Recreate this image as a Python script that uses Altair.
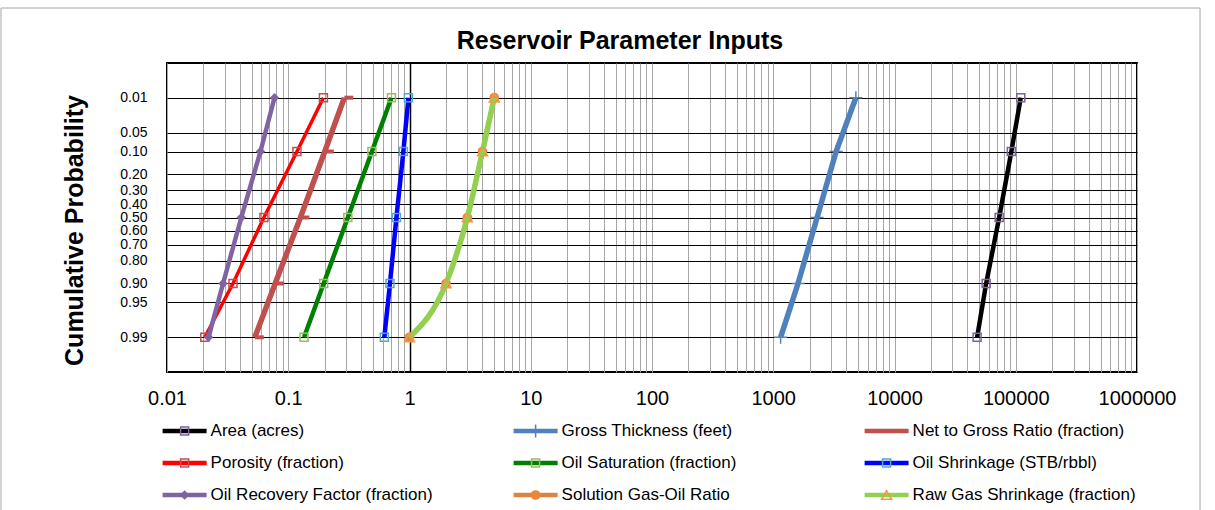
import altair as alt
import pandas as pd
from statistics import NormalDist

# ---------------- data ----------------
probs = [0.01, 0.1, 0.5, 0.9, 0.99]

series_names = [
    "Area (acres)",
    "Gross Thickness (feet)",
    "Net to Gross Ratio (fraction)",
    "Porosity (fraction)",
    "Oil Saturation (fraction)",
    "Oil Shrinkage (STB/rbbl)",
    "Oil Recovery Factor (fraction)",
    "Solution Gas-Oil Ratio",
    "Raw Gas Shrinkage (fraction)",
]

area = [110000, 92000, 73000, 57000, 48000]
gross_thickness = [4800, 3300, 2300, 1600, 1150]
net_to_gross = [0.29, 0.20, 0.126, 0.078, 0.053]
porosity = [0.195, 0.118, 0.063, 0.035, 0.0205]
oil_saturation = [0.71, 0.49, 0.31, 0.196, 0.135]
oil_shrinkage = [0.98, 0.89, 0.78, 0.69, 0.62]
oil_recovery = [0.077, 0.059, 0.041, 0.029, 0.022]
solution_gor = [5, 4, 3, 2, 1]
raw_gas_shrinkage = [5, 4, 3, 2, 1]

series_values = [area, gross_thickness, net_to_gross, porosity, oil_saturation,
                 oil_shrinkage, oil_recovery, solution_gor, raw_gas_shrinkage]

y_tick_probs = [0.01, 0.05, 0.10, 0.20, 0.30, 0.40, 0.50, 0.60, 0.70, 0.80, 0.90, 0.95, 0.99]
x_decades = [0.01, 0.1, 1, 10, 100, 1000, 10000, 100000, 1000000]

# legend layout (row, column) in reading order
legend_rows = [0, 0, 0, 1, 1, 1, 2, 2, 2]
legend_cols = [0, 1, 2, 0, 1, 2, 0, 1, 2]

# ---------------- styles ----------------
SQUARE = "square"
CROSS = "M-1,0L1,0M0,-1L0,1"
DASH_R = "M0,0L1,0"
styles = {
    "Area (acres)": dict(line="#000000", lw=4.5, shape=SQUARE, size=64, mcolor="#7F60A0", filled=False, msw=1.5),
    "Gross Thickness (feet)": dict(line="#4F81BD", lw=5.5, shape=CROSS, size=169, mcolor="#4F81BD", filled=False, msw=1.5),
    "Net to Gross Ratio (fraction)": dict(line="#C0504D", lw=5.5, shape=DASH_R, size=324, mcolor="#C0504D", filled=False, msw=4),
    "Porosity (fraction)": dict(line="#FF0000", lw=3.5, shape=SQUARE, size=64, mcolor="#C0504D", filled=False, msw=1.5),
    "Oil Saturation (fraction)": dict(line="#008000", lw=4.5, shape=SQUARE, size=64, mcolor="#9BBB59", filled=False, msw=1.5),
    "Oil Shrinkage (STB/rbbl)": dict(line="#0000FF", lw=4.5, shape=SQUARE, size=64, mcolor="#4BACC6", filled=False, msw=1.5),
    "Oil Recovery Factor (fraction)": dict(line="#8064A2", lw=4.5, shape="diamond", size=90, mcolor="#8064A2", filled=True, msw=1),
    "Solution Gas-Oil Ratio": dict(line="#DD8540", lw=4.5, shape="circle", size=95, mcolor="#E8873E", filled=True, msw=1, interp="monotone"),
    "Raw Gas Shrinkage (fraction)": dict(line="#92D050", lw=5.5, shape="triangle-up", size=100, mcolor="#F79646", filled=False, msw=1.5, interp="monotone"),
}

rows = []
for name, vals in zip(series_names, series_values):
    for p, v in zip(probs, vals):
        rows.append({"series": name, "p": p, "v": v})
df = pd.DataFrame(rows)

legend_df = pd.DataFrame({"series": series_names, "row": legend_rows, "col": legend_cols})

# ---------------- scales / axes ----------------
nd = NormalDist()
y_tick_z = [nd.inv_cdf(p) for p in y_tick_probs]

x_grid_vals = []
for k in range(-2, 6):
    for m in range(1, 10):
        x_grid_vals.append(float(f"{m}e{k}"))
x_grid_vals.append(1000000.0)

FONT = "Liberation Sans"

x_enc = alt.X(
    "v:Q",
    scale=alt.Scale(type="log", domain=[0.01, 1000000], nice=False),
    axis=alt.Axis(
        values=x_grid_vals,
        labelExpr="indexof([" + ",".join(repr(float(d)) for d in x_decades) + "], datum.value) >= 0 ? '' + datum.value : ''",
        labelFont=FONT, labelFontSize=20, labelColor="#000000", labelPadding=16,
        labelOverlap=False, labelFlush=False,
        ticks=False, tickSize=0, domain=False,
        grid=True,
        gridColor={"condition": {"test": "datum.value == 1", "value": "#000000"}, "value": "#A6A6A6"},
        gridWidth={"condition": {"test": "datum.value == 1", "value": 1.5}, "value": 1},
        gridOpacity=1,
        title=None,
    ),
)
y_enc = alt.Y(
    "z:Q",
    scale=alt.Scale(domain=[-3, 3], reverse=True, nice=False, zero=False),
    axis=alt.Axis(
        values=y_tick_z,
        labelExpr="format(cumulativeNormal(datum.value), '.2f')",
        labelFont=FONT, labelFontSize=14, labelColor="#000000", labelPadding=20,
        labelOverlap=False, labelFlush=False,
        ticks=False, tickSize=0, domain=False,
        grid=True, gridColor="#000000", gridWidth=1, gridOpacity=1,
        title="Cumulative Probability",
        titleFont=FONT, titleFontSize=25, titleFontWeight="bold", titleColor="#000000",
        titleX=-85, titleY=167, titleBaseline="alphabetic", titleAngle=270,
    ),
)

base = alt.Chart(df).transform_calculate(z="quantileNormal(datum.p)")

main_layers = []
for name in series_names:
    s = styles[name]
    sub = base.transform_filter(alt.datum.series == name)
    line_kwargs = dict(color=s["line"], strokeWidth=s["lw"], clip=True)
    if "interp" in s:
        line_kwargs["interpolate"] = s["interp"]
    main_layers.append(sub.mark_line(**line_kwargs).encode(x=x_enc, y=y_enc))
    main_layers.append(
        sub.mark_point(shape=s["shape"], size=s["size"], filled=s["filled"],
                       color=s["mcolor"], strokeWidth=s["msw"], opacity=1).encode(x=x_enc, y=y_enc)
    )
main = alt.layer(*main_layers)

# ---------------- legend ----------------
lx = alt.X("col:Q", scale=alt.Scale(domain=[0, 2], range=[17.6, 719.6]), axis=None)
ly = alt.Y("row:Q", scale=alt.Scale(domain=[0, 2], range=[368, 432]), axis=None)
lbase = alt.Chart(legend_df)
legend_layers = []
for name in series_names:
    s = styles[name]
    sub = lbase.transform_filter(alt.datum.series == name)
    legend_layers.append(
        sub.mark_point(shape="M-1,0L1,0", size=1936, filled=False, color=s["line"],
                       strokeWidth=4.5, opacity=1).encode(x=lx, y=ly)
    )
    legend_layers.append(
        sub.mark_point(shape=s["shape"], size=s["size"], filled=s["filled"],
                       color=s["mcolor"], strokeWidth=s["msw"], opacity=1).encode(x=lx, y=ly)
    )
    legend_layers.append(
        sub.mark_text(align="left", baseline="middle", dx=26, font=FONT, fontSize=17,
                      color="#000000").encode(x=lx, y=ly, text="series:N")
    )

border = alt.Chart(alt.Data(values=[{"b": 1}])).mark_rect(
    fillOpacity=0, stroke="#A6A6A6", strokeWidth=1
).encode(x=alt.value(-166), x2=alt.value(1033), y=alt.value(-55), y2=alt.value(460))

legend = alt.layer(border, *legend_layers)

chart = alt.layer(main, legend).resolve_scale(
    x="independent", y="independent"
).properties(
    width=970,
    height=309,
    title=alt.TitleParams(
        "Reservoir Parameter Inputs", font=FONT, fontSize=25, fontWeight="bold",
        color="#000000", anchor="middle", frame="group", dx=-32, dy=80, offset=14,
        baseline="alphabetic",
    ),
    padding={"left": 167, "top": 63, "right": 78, "bottom": 138},
    autosize=alt.AutoSizeParams(type="none"),
    background="#FFFFFF",
).configure_view(stroke="#000000", strokeWidth=2)

chart.save("out.html", embed_options={"renderer": "svg", "actions": False})
